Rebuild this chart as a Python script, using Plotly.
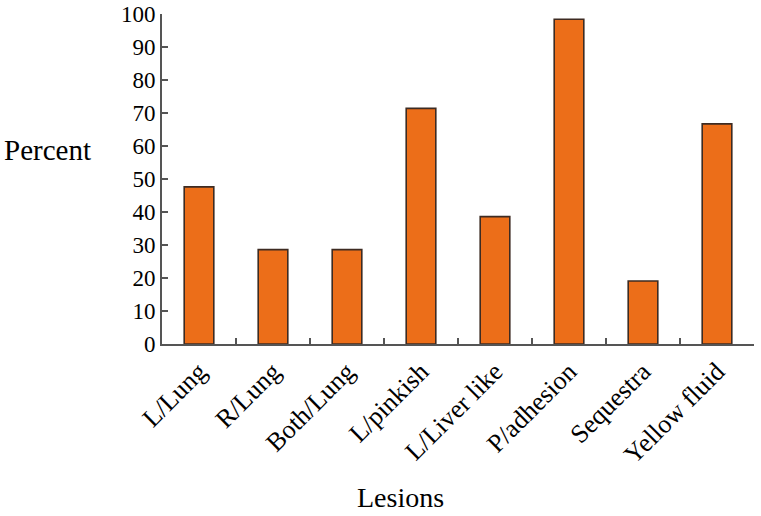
import plotly.graph_objects as go

categories = ["L/Lung", "R/Lung", "Both/Lung", "L/pinkish", "L/Liver like",
              "P/adhesion", "Sequestra", "Yellow fluid"]
percent = [47.6, 28.6, 28.6, 71.4, 38.6, 98.4, 19.1, 66.7]
y_ticks = [0, 10, 20, 30, 40, 50, 60, 70, 80, 90, 100]

font_family = "Liberation Serif"

L, R, T, B = 162, 7, 14, 172
W, H = 761, 516
pw, ph = W - L - R, H - T - B

fig = go.Figure(go.Bar(
    x=categories, y=percent,
    marker=dict(color="#EC6E19", line=dict(color="#3d2b22", width=1.6)),
    width=0.4,
))

fig.update_layout(
    width=W, height=H,
    margin=dict(l=L, r=R, t=T, b=B),
    plot_bgcolor="white", paper_bgcolor="white",
    showlegend=False,
    font=dict(family=font_family, size=22, color="black"),
    xaxis=dict(
        type="category", tickson="boundaries", ticks="inside", ticklen=6,
        tickwidth=1.5, tickcolor="#555", showline=True, linecolor="#555",
        linewidth=2, tickangle=-45, showgrid=False, automargin=False,
        tickfont=dict(family=font_family, size=26, color="black"),
    ),
    yaxis=dict(
        range=[0, 100], tickvals=y_ticks, ticks="inside", ticklen=6,
        tickwidth=1.5, tickcolor="#555", showline=True, linecolor="#555",
        linewidth=2, showgrid=False, zeroline=False, automargin=False,
        tickfont=dict(family=font_family, size=23, color="black"),
    ),
    annotations=[
        dict(text="Percent", xref="paper", yref="paper",
             x=(47 - L) / pw, y=(H - B - 150) / ph,
             xanchor="center", yanchor="middle",
             showarrow=False, font=dict(family=font_family, size=29)),
        dict(text="Lesions", xref="paper", yref="paper",
             x=(400 - L) / pw, y=(H - B - 497) / ph,
             xanchor="center", yanchor="middle",
             showarrow=False, font=dict(family=font_family, size=28)),
    ],
)

fig.write_html(
    "out.html",
    config={"displayModeBar": False},
    post_script="document.body.style.margin='0px';document.body.style.overflow='hidden';",
)
